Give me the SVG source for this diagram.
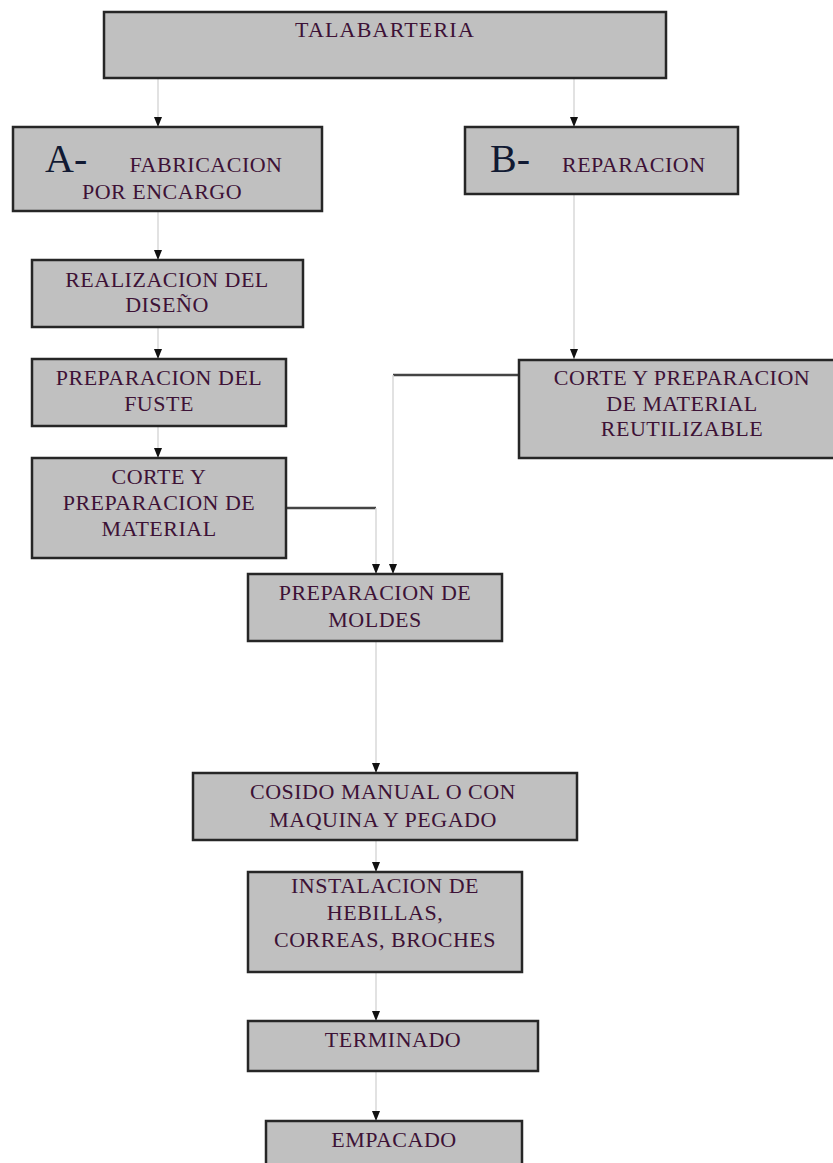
<svg xmlns="http://www.w3.org/2000/svg" width="833" height="1163" viewBox="0 0 833 1163">
<style>
.box{fill:#c0c0c0;stroke:#262626;stroke-width:2.5}
.t{font-family:"Liberation Serif","Times New Roman",serif;font-size:22px;fill:#3d1236;text-anchor:middle;letter-spacing:0.5px}
.big{font-family:"Liberation Serif","Times New Roman",serif;font-size:40px;fill:#111a33}
.v{stroke:#d9d9d9;stroke-width:1.5;fill:none}
.h{stroke:#444;stroke-width:2.5;fill:none}
</style>
<defs>
<marker id="ah" viewBox="0 0 10 8" refX="10" refY="4" markerWidth="10" markerHeight="8" markerUnits="userSpaceOnUse" orient="auto">
<path d="M0,0 L10,4 L0,8 Z" fill="#111"/>
</marker>
</defs>
<rect width="833" height="1163" fill="#fff"/>
<g id="connectors">
<line class="v" x1="158" y1="78" x2="158" y2="127" marker-end="url(#ah)"/>
<line class="v" x1="574" y1="78" x2="574" y2="127" marker-end="url(#ah)"/>
<line class="v" x1="158" y1="211" x2="158" y2="260" marker-end="url(#ah)"/>
<line class="v" x1="158" y1="327" x2="158" y2="359" marker-end="url(#ah)"/>
<line class="v" x1="158" y1="426" x2="158" y2="458" marker-end="url(#ah)"/>
<line class="v" x1="574" y1="194" x2="574" y2="359" marker-end="url(#ah)"/>
<line class="h" x1="286" y1="508" x2="376" y2="508"/>
<line class="v" x1="376" y1="508" x2="376" y2="574" marker-end="url(#ah)"/>
<line class="h" x1="519" y1="375" x2="393" y2="375"/>
<line class="v" x1="393" y1="375" x2="393" y2="574" marker-end="url(#ah)"/>
<line class="v" x1="376" y1="641" x2="376" y2="773" marker-end="url(#ah)"/>
<line class="v" x1="376" y1="840" x2="376" y2="872" marker-end="url(#ah)"/>
<line class="v" x1="376" y1="972" x2="376" y2="1021" marker-end="url(#ah)"/>
<line class="v" x1="376" y1="1071" x2="376" y2="1121" marker-end="url(#ah)"/>
</g>
<g id="talabarteria">
<rect class="box" x="104" y="12" width="562" height="66"/>
<text class="t" x="385" y="37" style="letter-spacing:1.2px">TALABARTERIA</text>
</g>
<g id="fabricacion">
<rect class="box" x="13" y="127" width="309" height="84"/>
<text class="big" x="45" y="172">A-</text>
<text class="t" x="206" y="172">FABRICACION</text>
<text class="t" x="82" y="199" style="text-anchor:start">POR ENCARGO</text>
</g>
<g id="reparacion">
<rect class="box" x="465" y="127" width="273" height="67"/>
<text class="big" x="490" y="172">B-</text>
<text class="t" x="562" y="172" style="text-anchor:start">REPARACION</text>
</g>
<g id="realizacion">
<rect class="box" x="32" y="260" width="271" height="67"/>
<text class="t" x="167" y="287">REALIZACION DEL</text>
<text class="t" x="167" y="312">DISEÑO</text>
</g>
<g id="fuste">
<rect class="box" x="32" y="359" width="254" height="67"/>
<text class="t" x="159" y="385">PREPARACION DEL</text>
<text class="t" x="159" y="411">FUSTE</text>
</g>
<g id="corte">
<rect class="box" x="32" y="458" width="254" height="100"/>
<text class="t" x="159" y="484">CORTE Y</text>
<text class="t" x="159" y="510">PREPARACION DE</text>
<text class="t" x="159" y="536">MATERIAL</text>
</g>
<g id="corte-reutilizable">
<rect class="box" x="519" y="360" width="330" height="98"/>
<text class="t" x="682" y="385">CORTE Y PREPARACION</text>
<text class="t" x="682" y="411">DE MATERIAL</text>
<text class="t" x="682" y="436">REUTILIZABLE</text>
</g>
<g id="moldes">
<rect class="box" x="248" y="574" width="254" height="67"/>
<text class="t" x="375" y="600">PREPARACION DE</text>
<text class="t" x="375" y="627">MOLDES</text>
</g>
<g id="cosido">
<rect class="box" x="193" y="773" width="384" height="67"/>
<text class="t" x="383" y="799">COSIDO MANUAL O CON</text>
<text class="t" x="383" y="827">MAQUINA Y PEGADO</text>
</g>
<g id="instalacion">
<rect class="box" x="248" y="872" width="274" height="100"/>
<text class="t" x="385" y="893">INSTALACION DE</text>
<text class="t" x="385" y="920">HEBILLAS,</text>
<text class="t" x="385" y="947">CORREAS, BROCHES</text>
</g>
<g id="terminado">
<rect class="box" x="248" y="1021" width="290" height="50"/>
<text class="t" x="393" y="1047">TERMINADO</text>
</g>
<g id="empacado">
<rect class="box" x="266" y="1121" width="256" height="60"/>
<text class="t" x="394" y="1147">EMPACADO</text>
</g>
</svg>
